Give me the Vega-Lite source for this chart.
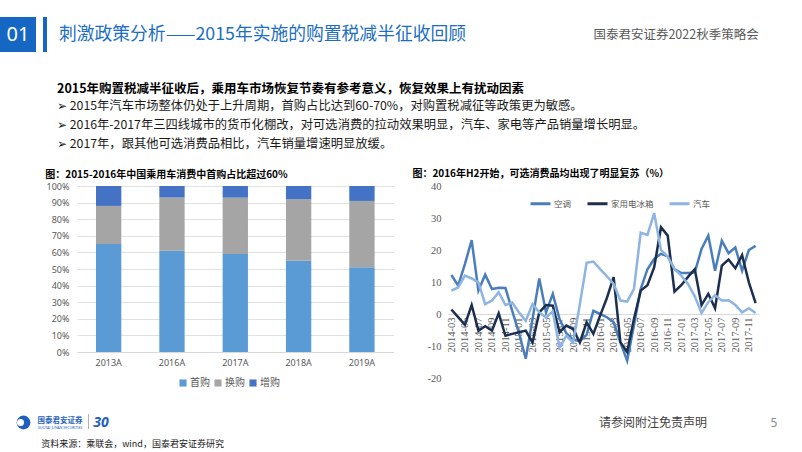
{
  "$schema": "https://vega.github.io/schema/vega-lite/v6.json",
  "background": "#ffffff",
  "padding": {"left": 0, "top": 17, "right": 0, "bottom": 0},
  "config": {
    "view": {"stroke": null, "fill": "transparent"},
    "font": "Noto Sans CJK SC"
  },
  "spacing": 0,
  "vconcat": [
    {
      "spacing": 0,
      "bounds": "flush",
      "hconcat": [
        {"width": 36, "height": 35, "view": {"fill": "#1667c4", "stroke": null},
         "data": {"values": [{"t": "01"}]},
         "mark": {"type": "text", "color": "#ffffff", "fontSize": 20, "font": "Noto Sans"},
         "encoding": {"text": {"field": "t"}}},
        {"width": 7, "height": 35, "data": {"values": []}, "mark": "text"},
        {"width": 4, "height": 35, "view": {"fill": "#1667c4", "stroke": null}, "data": {"values": []}, "mark": "text"},
        {"width": 8, "height": 35, "data": {"values": []}, "mark": "text"},
        {"width": 415, "height": 35, "data": {"values": [{"t": "刺激政策分析——2015年实施的购置税减半征收回顾"}]},
         "mark": {"type": "text", "color": "#1b6ec2", "fontSize": 17.8, "font": "Noto Sans CJK SC"},
         "encoding": {"text": {"field": "t"}}},
        {"width": 124, "height": 35, "data": {"values": []}, "mark": "text"},
        {"width": 164, "height": 35, "data": {"values": [{"t": "国泰君安证券2022秋季策略会"}]},
         "mark": {"type": "text", "color": "#595959", "fontSize": 12.5, "font": "Noto Sans CJK SC"},
         "encoding": {"text": {"field": "t"}}}
      ]
    },
    {"width": 1, "height": 31, "data": {"values": []}, "mark": "text"},
    {
      "spacing": 0,
      "bounds": "flush",
      "resolve": {"scale": {"color": "independent"}, "legend": {"color": "independent"}},
      "hconcat": [
        {"width": 76.7, "height": 166, "data": {"values": []}, "mark": "text",
         "title": {
            "text": "2015年购置税减半征收后，乘用车市场恢复节奏有参考意义，恢复效果上有扰动因素",
            "subtitle": [
              "➢ 2015年汽车市场整体仍处于上升周期，首购占比达到60-70%，对购置税减征等政策更为敏感。",
              "➢ 2016年-2017年三四线城市的货币化棚改，对可选消费的拉动效果明显，汽车、家电等产品销量增长明显。",
              "➢ 2017年，跟其他可选消费品相比，汽车销量增速明显放缓。"
            ],
            "anchor": "start", "frame": "group", "dx": 57, "offset": 36,
            "fontSize": 12.5, "fontWeight": "bold", "color": "#000000", "font": "Noto Sans CJK SC",
            "subtitleFontSize": 12.3, "subtitleColor": "#1a1a1a", "subtitleFont": "Noto Sans CJK SC",
            "subtitleLineHeight": 19, "subtitlePadding": 4
         }},
        {
          "width": 316.6, "height": 166,
          "title": {"text": "图：2015-2016年中国乘用车消费中首购占比超过60%", "anchor": "start", "frame": "group", "dx": -31.7, "offset": 2.5, "fontSize": 10, "fontWeight": "bold", "color": "#000000", "font": "Noto Sans CJK SC"},
          "data": {"values": [
            {"year": "2013A", "type": "首购", "value": 65},
            {"year": "2013A", "type": "换购", "value": 23},
            {"year": "2013A", "type": "增购", "value": 12},
            {"year": "2016A", "type": "首购", "value": 61},
            {"year": "2016A", "type": "换购", "value": 32},
            {"year": "2016A", "type": "增购", "value": 7},
            {"year": "2017A", "type": "首购", "value": 59},
            {"year": "2017A", "type": "换购", "value": 34},
            {"year": "2017A", "type": "增购", "value": 7},
            {"year": "2018A", "type": "首购", "value": 55},
            {"year": "2018A", "type": "换购", "value": 37},
            {"year": "2018A", "type": "增购", "value": 8},
            {"year": "2019A", "type": "首购", "value": 51},
            {"year": "2019A", "type": "换购", "value": 40},
            {"year": "2019A", "type": "增购", "value": 9}
          ]},
          "mark": {"type": "bar"},
          "encoding": {
            "x": {"field": "year", "type": "nominal", "sort": null,
                  "scale": {"paddingInner": 0.6, "paddingOuter": 0.3},
                  "axis": {"title": null, "labelAngle": 0, "ticks": false, "domainColor": "#d9d9d9", "labelColor": "#595959", "labelFontSize": 9, "labelFont": "Noto Sans", "labelPadding": 6}},
            "y": {"field": "value", "type": "quantitative", "stack": "zero",
                  "scale": {"domain": [0, 100], "nice": false},
                  "axis": {"title": null, "values": [0, 10, 20, 30, 40, 50, 60, 70, 80, 90, 100], "labelExpr": "datum.value + '%'", "domain": false, "ticks": false, "gridColor": "#d9d9d9", "gridWidth": 0.8, "labelColor": "#595959", "labelFontSize": 9, "labelFont": "Noto Sans", "labelPadding": 8}},
            "color": {"field": "type", "type": "nominal",
                      "scale": {"domain": ["首购", "换购", "增购"], "range": ["#5b9bd5", "#a5a5a5", "#4472c4"]},
                      "legend": {"orient": "none", "legendX": 101, "legendY": 192, "direction": "horizontal", "title": null, "symbolType": "square", "symbolSize": 50, "labelFontSize": 10, "labelColor": "#595959", "columnPadding": 3, "labelOffset": 2, "labelFont": "Noto Sans CJK SC"}},
            "order": {"field": "type", "sort": "descending"}
          }
        },
        {"width": 54, "height": 1, "data": {"values": []}, "mark": "text"},
        {
          "width": 311, "height": 192,
          "title": {"text": "图：2016年H2开始，可选消费品均出现了明显复苏（%）", "anchor": "start", "frame": "group", "dx": -35.6, "offset": 2.5, "fontSize": 10, "fontWeight": "bold", "color": "#000000", "font": "Noto Sans CJK SC"},
          "data": {"values": [
            {"month": "2014-03", "series": "空调", "value": 12.2},
            {"month": "2014-04", "series": "空调", "value": 8.9},
            {"month": "2014-05", "series": "空调", "value": 15.6},
            {"month": "2014-06", "series": "空调", "value": 23.1},
            {"month": "2014-07", "series": "空调", "value": 7.3},
            {"month": "2014-08", "series": "空调", "value": 12.3},
            {"month": "2014-09", "series": "空调", "value": 7.8},
            {"month": "2014-10", "series": "空调", "value": 8.2},
            {"month": "2014-11", "series": "空调", "value": 8.1},
            {"month": "2014-12", "series": "空调", "value": 1.0},
            {"month": "2015-01", "series": "空调", "value": -6},
            {"month": "2015-02", "series": "空调", "value": -14},
            {"month": "2015-03", "series": "空调", "value": -1.6},
            {"month": "2015-04", "series": "空调", "value": 11.1},
            {"month": "2015-05", "series": "空调", "value": 0.5},
            {"month": "2015-06", "series": "空调", "value": 6.3},
            {"month": "2015-07", "series": "空调", "value": -1.6},
            {"month": "2015-08", "series": "空调", "value": -6},
            {"month": "2015-09", "series": "空调", "value": -8},
            {"month": "2015-10", "series": "空调", "value": -8.5},
            {"month": "2015-11", "series": "空调", "value": -6.5},
            {"month": "2015-12", "series": "空调", "value": 1},
            {"month": "2016-01", "series": "空调", "value": 0},
            {"month": "2016-02", "series": "空调", "value": -1},
            {"month": "2016-03", "series": "空调", "value": -2.6},
            {"month": "2016-04", "series": "空调", "value": -8.9},
            {"month": "2016-05", "series": "空调", "value": -14.6},
            {"month": "2016-06", "series": "空调", "value": -3.6},
            {"month": "2016-07", "series": "空调", "value": 7.8},
            {"month": "2016-08", "series": "空调", "value": 14},
            {"month": "2016-09", "series": "空调", "value": 17.2},
            {"month": "2016-10", "series": "空调", "value": 18.8},
            {"month": "2016-11", "series": "空调", "value": 18},
            {"month": "2016-12", "series": "空调", "value": 14},
            {"month": "2017-01", "series": "空调", "value": 12.8},
            {"month": "2017-02", "series": "空调", "value": 12.8},
            {"month": "2017-03", "series": "空调", "value": 13},
            {"month": "2017-04", "series": "空调", "value": 20.3},
            {"month": "2017-05", "series": "空调", "value": 24.5},
            {"month": "2017-06", "series": "空调", "value": 13.5},
            {"month": "2017-07", "series": "空调", "value": 22.9},
            {"month": "2017-08", "series": "空调", "value": 19},
            {"month": "2017-09", "series": "空调", "value": 20.8},
            {"month": "2017-10", "series": "空调", "value": 13.5},
            {"month": "2017-11", "series": "空调", "value": 20},
            {"month": "2017-12", "series": "空调", "value": 21.3},
            {"month": "2014-03", "series": "家用电冰箱", "value": 1.4},
            {"month": "2014-04", "series": "家用电冰箱", "value": -1},
            {"month": "2014-05", "series": "家用电冰箱", "value": -3.4},
            {"month": "2014-06", "series": "家用电冰箱", "value": 2.8},
            {"month": "2014-07", "series": "家用电冰箱", "value": -5.2},
            {"month": "2014-08", "series": "家用电冰箱", "value": -3.8},
            {"month": "2014-09", "series": "家用电冰箱", "value": -5.2},
            {"month": "2014-10", "series": "家用电冰箱", "value": 0.2},
            {"month": "2014-11", "series": "家用电冰箱", "value": -6.8},
            {"month": "2014-12", "series": "家用电冰箱", "value": -6.2},
            {"month": "2015-01", "series": "家用电冰箱", "value": -5.7},
            {"month": "2015-02", "series": "家用电冰箱", "value": -5.2},
            {"month": "2015-03", "series": "家用电冰箱", "value": -8.9},
            {"month": "2015-04", "series": "家用电冰箱", "value": 0.5},
            {"month": "2015-05", "series": "家用电冰箱", "value": 2.8},
            {"month": "2015-06", "series": "家用电冰箱", "value": 2.6},
            {"month": "2015-07", "series": "家用电冰箱", "value": -5.7},
            {"month": "2015-08", "series": "家用电冰箱", "value": -3.6},
            {"month": "2015-09", "series": "家用电冰箱", "value": -4.7},
            {"month": "2015-10", "series": "家用电冰箱", "value": -8.9},
            {"month": "2015-11", "series": "家用电冰箱", "value": -2.6},
            {"month": "2015-12", "series": "家用电冰箱", "value": -6.2},
            {"month": "2016-01", "series": "家用电冰箱", "value": -0.5},
            {"month": "2016-02", "series": "家用电冰箱", "value": 5},
            {"month": "2016-03", "series": "家用电冰箱", "value": 11.5},
            {"month": "2016-04", "series": "家用电冰箱", "value": -8.8},
            {"month": "2016-05", "series": "家用电冰箱", "value": -11.9},
            {"month": "2016-06", "series": "家用电冰箱", "value": -1.6},
            {"month": "2016-07", "series": "家用电冰箱", "value": 7.3},
            {"month": "2016-08", "series": "家用电冰箱", "value": 9},
            {"month": "2016-09", "series": "家用电冰箱", "value": 14.6},
            {"month": "2016-10", "series": "家用电冰箱", "value": 27.1},
            {"month": "2016-11", "series": "家用电冰箱", "value": 24.5},
            {"month": "2016-12", "series": "家用电冰箱", "value": 7},
            {"month": "2017-01", "series": "家用电冰箱", "value": 9},
            {"month": "2017-02", "series": "家用电冰箱", "value": 11.6},
            {"month": "2017-03", "series": "家用电冰箱", "value": 14},
            {"month": "2017-04", "series": "家用电冰箱", "value": 2.8},
            {"month": "2017-05", "series": "家用电冰箱", "value": 6.3},
            {"month": "2017-06", "series": "家用电冰箱", "value": 1.8},
            {"month": "2017-07", "series": "家用电冰箱", "value": 15.1},
            {"month": "2017-08", "series": "家用电冰箱", "value": 17},
            {"month": "2017-09", "series": "家用电冰箱", "value": 14.3},
            {"month": "2017-10", "series": "家用电冰箱", "value": 18.4},
            {"month": "2017-11", "series": "家用电冰箱", "value": 9.9},
            {"month": "2017-12", "series": "家用电冰箱", "value": 3.4},
            {"month": "2014-03", "series": "汽车", "value": 7.3},
            {"month": "2014-04", "series": "汽车", "value": 8.3},
            {"month": "2014-05", "series": "汽车", "value": 12},
            {"month": "2014-06", "series": "汽车", "value": 11.1},
            {"month": "2014-07", "series": "汽车", "value": 9.9},
            {"month": "2014-08", "series": "汽车", "value": 3.1},
            {"month": "2014-09", "series": "汽车", "value": 4.2},
            {"month": "2014-10", "series": "汽车", "value": 6.8},
            {"month": "2014-11", "series": "汽车", "value": 2.8},
            {"month": "2014-12", "series": "汽车", "value": 3.6},
            {"month": "2015-01", "series": "汽车", "value": 0.5},
            {"month": "2015-02", "series": "汽车", "value": -2.1},
            {"month": "2015-03", "series": "汽车", "value": 3.1},
            {"month": "2015-04", "series": "汽车", "value": 0.5},
            {"month": "2015-05", "series": "汽车", "value": -1.1},
            {"month": "2015-06", "series": "汽车", "value": 0.8},
            {"month": "2015-07", "series": "汽车", "value": -10.5},
            {"month": "2015-08", "series": "汽车", "value": -6.8},
            {"month": "2015-09", "series": "汽车", "value": -8.9},
            {"month": "2015-10", "series": "汽车", "value": 3},
            {"month": "2015-11", "series": "汽车", "value": 16},
            {"month": "2015-12", "series": "汽车", "value": 16.4},
            {"month": "2016-01", "series": "汽车", "value": 14},
            {"month": "2016-02", "series": "汽车", "value": 11.8},
            {"month": "2016-03", "series": "汽车", "value": 9.4},
            {"month": "2016-04", "series": "汽车", "value": 4.2},
            {"month": "2016-05", "series": "汽车", "value": 3.9},
            {"month": "2016-06", "series": "汽车", "value": 7.8},
            {"month": "2016-07", "series": "汽车", "value": 25.4},
            {"month": "2016-08", "series": "汽车", "value": 24.7},
            {"month": "2016-09", "series": "汽车", "value": 31.5},
            {"month": "2016-10", "series": "汽车", "value": 20},
            {"month": "2016-11", "series": "汽车", "value": 18},
            {"month": "2016-12", "series": "汽车", "value": 14},
            {"month": "2017-01", "series": "汽车", "value": 12},
            {"month": "2017-02", "series": "汽车", "value": 9.4},
            {"month": "2017-03", "series": "汽车", "value": 5.5},
            {"month": "2017-04", "series": "汽车", "value": 0.3},
            {"month": "2017-05", "series": "汽车", "value": 3.7},
            {"month": "2017-06", "series": "汽车", "value": 5.9},
            {"month": "2017-07", "series": "汽车", "value": 4.2},
            {"month": "2017-08", "series": "汽车", "value": 4.3},
            {"month": "2017-09", "series": "汽车", "value": 2.8},
            {"month": "2017-10", "series": "汽车", "value": 0.5},
            {"month": "2017-11", "series": "汽车", "value": 1.8},
            {"month": "2017-12", "series": "汽车", "value": 0.3}
          ]},
          "mark": {"type": "line", "strokeWidth": 2.5},
          "encoding": {
            "x": {"field": "month", "type": "ordinal", "sort": null,
                  "scale": {"type": "point", "padding": 0.5},
                  "axis": {"title": null, "values": ["2014-03", "2014-05", "2014-07", "2014-09", "2014-11", "2015-01", "2015-03", "2015-05", "2015-07", "2015-09", "2015-11", "2016-01", "2016-03", "2016-05", "2016-07", "2016-09", "2016-11", "2017-01", "2017-03", "2017-05", "2017-07", "2017-09", "2017-11"],
                           "labelAngle": -90, "offset": -64, "ticks": false, "domainColor": "#d9d9d9", "labelFont": "Liberation Serif", "labelFontSize": 10.5, "labelColor": "#595959", "labelPadding": 3}},
            "y": {"field": "value", "type": "quantitative",
                  "scale": {"domain": [-20, 40], "nice": false},
                  "axis": {"title": null, "values": [-20, -10, 0, 10, 20, 30, 40], "labelExpr": "'' + datum.value", "grid": false, "domain": false, "ticks": false, "labelFont": "Liberation Serif", "labelFontSize": 10.5, "labelColor": "#595959", "labelPadding": 7}},
            "color": {"field": "series", "type": "nominal",
                      "scale": {"domain": ["空调", "家用电冰箱", "汽车"], "range": ["#4a7ebb", "#1c2f4f", "#8db4e2"]},
                      "legend": {"orient": "none", "legendX": 81, "legendY": 6, "direction": "horizontal", "title": null, "symbolType": "stroke", "symbolStrokeWidth": 3, "symbolSize": 400, "labelFontSize": 8.5, "labelColor": "#595959", "columnPadding": 9, "labelOffset": 2, "labelFont": "Noto Sans CJK SC"}}
          }
        }
      ]
    },
    {"width": 1, "height": 25.5, "data": {"values": []}, "mark": "text"},
    {
      "spacing": 0,
      "bounds": "flush",
      "hconcat": [
        {"width": 15, "height": 17, "data": {"values": []}, "mark": "text"},
        {"width": 17, "height": 17, "data": {"values": [{"k": "logo"}]},
         "layer": [
           {"mark": {"type": "point", "shape": "circle", "filled": true, "size": 190, "color": "#1f5fbf", "opacity": 1}},
           {"mark": {"type": "point", "shape": "circle", "filled": true, "size": 50, "color": "#ffffff", "opacity": 1, "xOffset": -3}}
         ]},
        {"width": 6, "height": 17, "data": {"values": []}, "mark": "text"},
        {"width": 44, "height": 17, "data": {"values": [{"cn": "国泰君安证券", "en": "GUOTAI JUNAN SECURITIES"}]},
         "layer": [
           {"mark": {"type": "text", "fontSize": 7.5, "fontWeight": "bold", "color": "#1f5fbf", "dy": -2, "font": "Noto Sans CJK SC"}, "encoding": {"text": {"field": "cn"}}},
           {"mark": {"type": "text", "fontSize": 3.5, "color": "#1f5fbf", "dy": 5, "font": "Noto Sans"}, "encoding": {"text": {"field": "en"}}}
         ]},
        {"width": 6, "height": 17, "data": {"values": []}, "mark": "text"},
        {"width": 1, "height": 15, "view": {"fill": "#b4b4b4", "stroke": null}, "data": {"values": []}, "mark": "text"},
        {"width": 24, "height": 17, "data": {"values": [{"t": "30"}]},
         "mark": {"type": "text", "fontSize": 14, "fontWeight": "bold", "fontStyle": "italic", "color": "#2060c0", "font": "Noto Sans"},
         "encoding": {"text": {"field": "t"}}},
        {"width": 484, "height": 17, "data": {"values": []}, "mark": "text"},
        {"width": 112, "height": 17, "data": {"values": [{"t": "请参阅附注免责声明"}]},
         "mark": {"type": "text", "fontSize": 12, "color": "#404040", "font": "Noto Sans CJK SC"},
         "encoding": {"text": {"field": "t"}}},
        {"width": 60, "height": 17, "data": {"values": []}, "mark": "text"},
        {"width": 10, "height": 17, "data": {"values": [{"t": "5"}]},
         "mark": {"type": "text", "fontSize": 12, "color": "#8c8c8c", "font": "Noto Sans"},
         "encoding": {"text": {"field": "t"}}}
      ]
    },
    {
      "spacing": 0,
      "bounds": "flush",
      "hconcat": [
        {"width": 40, "height": 20, "data": {"values": []}, "mark": "text"},
        {"width": 185, "height": 20, "data": {"values": [{"t": "资料来源：乘联会，wind，国泰君安证券研究"}]},
         "mark": {"type": "text", "fontSize": 9, "color": "#1a1a1a", "dy": 3, "font": "Noto Sans CJK SC"},
         "encoding": {"text": {"field": "t"}}}
      ]
    }
  ]
}
